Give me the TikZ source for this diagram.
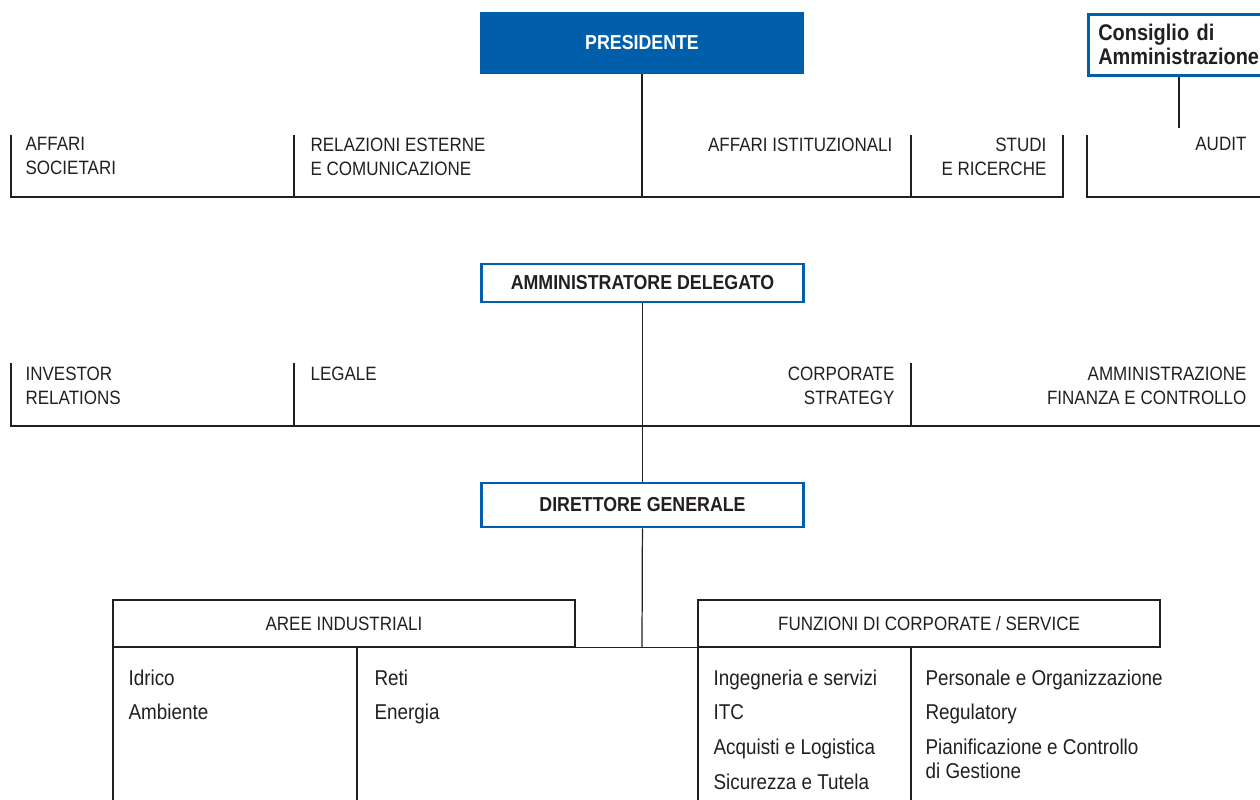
\documentclass[tikz,border=0pt]{standalone}
\usepackage{fontspec}
\setmainfont{Liberation Sans}[FakeStretch=0.88]
\usetikzlibrary{positioning}
\definecolor{hblue}{RGB}{0,94,170}
\definecolor{ink}{RGB}{35,31,32}

\begin{document}
\begin{tikzpicture}[x=0.02cm,y=-0.02cm,line width=0.7pt,draw=ink,text=ink,inner sep=0pt,
    capo/.style={draw=hblue,line width=1.5pt,minimum width=6.44cm,font=\bfseries\fontsize{11.5}{13}\selectfont},
    testa/.style={draw=ink,minimum width=9.24cm,minimum height=0.94cm,font=\fontsize{11}{13}\selectfont},
    uff/.style={font=\fontsize{11}{13.6}\selectfont},
    voce/.style={anchor=north west,align=left,font=\fontsize{12.2}{19.8}\selectfont}]
\useasboundingbox (0,0) rectangle (1260,799);

% vertici
\node[capo,fill=hblue,text=white,minimum height=1.2cm] (pres) at (642,43) {PRESIDENTE};
\node[draw=hblue,line width=1.5pt,anchor=north west,minimum height=1.22cm,text width=4cm,inner xsep=0.2cm,
      align=left,font=\bfseries\fontsize{12.9}{13.6}\selectfont] (cda) at (1087,13) {Consiglio di\\Amministrazione};
\node[capo,minimum height=0.76cm] (ad) at (642.5,283) {AMMINISTRATORE DELEGATO};
\node[capo,minimum height=0.88cm] (dg) at (642.5,505) {DIRETTORE GENERALE};

% uffici del presidente
\node[uff,anchor=north west,align=left] (soc) at (25,137) {AFFARI\\SOCIETARI};
\node[uff,anchor=north west,align=left] (rel) at (310,137) {RELAZIONI ESTERNE\\E COMUNICAZIONE};
\node[uff,anchor=north east,align=right] (ist) at (893,137) {AFFARI ISTITUZIONALI};
\node[uff,anchor=north east,align=right] (stu) at (1047,137) {STUDI\\E RICERCHE};
\node[uff,anchor=north east,align=right] (aud) at (1247,137) {AUDIT};
\coordinate (r1) at (642,197);
\coordinate (a1) at (1179,128);
\draw (11,135) -- (11,197) -- (1063,197) -- (1063,135);
\draw (294,135) -- (294,197) (911,135) -- (911,197);
\draw (1087,135) -- (1087,197) -- (1260,197);
\draw (pres) -- (r1);
\draw (cda.south -| a1) -- (a1);

% uffici dell'AD
\node[uff,anchor=north west,align=left] (inv) at (25,366) {INVESTOR\\RELATIONS};
\node[uff,anchor=north west,align=left] (leg) at (310,366) {LEGALE};
\node[uff,anchor=north east,align=right] (cst) at (895,366) {CORPORATE\\STRATEGY};
\node[uff,anchor=north east,align=right] (afc) at (1247,366) {AMMINISTRAZIONE\\FINANZA E CONTROLLO};
\draw (11,363) -- (11,426) -- (1260,426);
\draw (294,363) -- (294,426) (911,363) -- (911,426);
\draw (ad) -- (dg);

% aree e funzioni
\node[testa] (aree) at (344,623.5) {AREE INDUSTRIALI};
\node[testa] (funz) at (929,623.5) {FUNZIONI DI CORPORATE / SERVICE};
\coordinate (j) at (642,647);
\draw (dg) -- (j);
\draw (aree.south east) -- (funz.south west);
\draw (113,647) -- (113,805) (357,647) -- (357,805) (698,647) -- (698,805) (911,647) -- (911,805);
\node[voce] (ind1) at (128,669) {Idrico\\Ambiente};
\node[voce] (ind2) at (374,669) {Reti\\Energia};
\node[voce] (srv1) at (713,669) {Ingegneria e servizi\\ITC\\Acquisti e Logistica\\Sicurezza e Tutela};
\node[voce] (srv2) at (925,669) {Personale e Organizzazione\\Regulatory\\Pianificazione e Controllo\\[-6.2pt]di Gestione};
\end{tikzpicture}
\end{document}
